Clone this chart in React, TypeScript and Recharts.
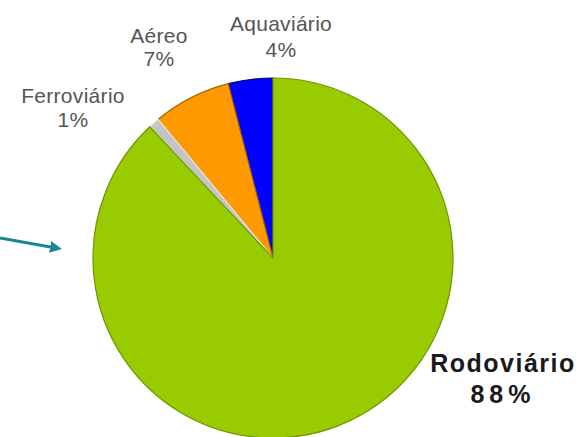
import React from 'react';
import { PieChart, Pie, Cell } from 'recharts';

// modal share of cargo transport (%), drawn counterclockwise from 12 o'clock
const modes = ['Aquaviário', 'Aéreo', 'Ferroviário', 'Rodoviário'];
const shares = [4, 7, 1, 88];

const fills = ['#0000ff', '#ff9900', '#c4c4c4', '#99cc00'];
const strokes = ['#00006e', '#a86400', '#e8e8e0', '#6f9400'];

const data = modes.map((name, i) => ({ name, value: shares[i] }));

// where each label sits (centre x, baseline of name, baseline of percent)
const labelPos: Record<string, { x: number; y1: number; y2: number }> = {
  'Aquaviário': { x: 281, y1: 31, y2: 57 },
  'Aéreo': { x: 159, y1: 43, y2: 66 },
  'Ferroviário': { x: 73, y1: 103, y2: 127 },
  'Rodoviário': { x: 503, y1: 372, y2: 403 },
};

const renderLabel = (props: any) => {
  const name = props.name ?? props.payload?.name;
  const pos = labelPos[name];
  if (!pos) return null;
  const pct = Math.round((props.percent ?? 0) * 100) + '%';
  const bold = name === 'Rodoviário';
  const style = bold
    ? { fontFamily: 'Liberation Sans, Arial, sans-serif', fontSize: 25, fontWeight: 700, fill: '#1a1a1a' }
    : { fontFamily: 'Liberation Sans, Arial, sans-serif', fontSize: 21, fill: '#555' };
  return (
    <g>
      <text x={pos.x} y={pos.y1} textAnchor="middle" style={{ ...style, letterSpacing: bold ? 1.5 : 0.3 }}>
        {name}
      </text>
      <text x={pos.x} y={pos.y2} textAnchor="middle" style={{ ...style, letterSpacing: bold ? 5 : 0.3 }}>
        {pct}
      </text>
    </g>
  );
};

export default function App() {
  return (
    <div style={{ position: 'absolute', left: 0, top: 0, width: 576, height: 437, background: '#fff' }}>
      <PieChart width={576} height={437}>
        <Pie
          data={data}
          dataKey="value"
          nameKey="name"
          cx={268}
          cy={253}
          outerRadius={180}
          startAngle={90}
          endAngle={450}
          label={renderLabel}
          labelLine={false}
          isAnimationActive={false}
        >
          {data.map((d, i) => (
            <Cell key={d.name} fill={fills[i]} stroke={strokes[i]} strokeWidth={1.2} />
          ))}
        </Pie>
      </PieChart>
      <svg width={80} height={60} style={{ position: 'absolute', left: 0, top: 220 }}>
        <defs>
          <marker id="head" markerWidth="4" markerHeight="4" refX="2" refY="2" orient="auto">
            <path d="M0,0 L4,2 L0,4 Z" fill="#1b8790" />
          </marker>
        </defs>
        <line x1={0} y1={18} x2={56} y2={28} stroke="#1b8790" strokeWidth={3} markerEnd="url(#head)" />
      </svg>
    </div>
  );
}
